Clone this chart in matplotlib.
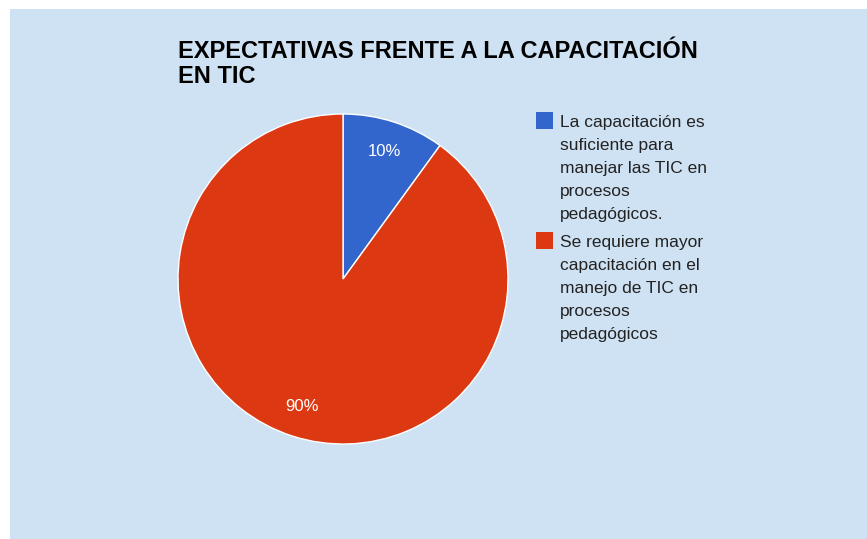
import matplotlib.pyplot as plt
from matplotlib.patches import Rectangle

# chart data
title_lines = ['EXPECTATIVAS FRENTE A LA CAPACITACIÓN', 'EN TIC']
labels = ['La capacitación es\nsuficiente para\nmanejar las TIC en\nprocesos\npedagógicos.',
          'Se requiere mayor\ncapacitación en el\nmanejo de TIC en\nprocesos\npedagógicos']
values = [10, 90]
colors = ['#3366cc', '#dc3912']

W, H = 867, 539
bg = '#cfe2f3'
plt.rcParams['font.family'] = ['Liberation Sans', 'DejaVu Sans']

fig = plt.figure(figsize=(W / 100, H / 100), dpi=100, facecolor='white')

# light blue panel (white strip on top and left like the screenshot)
fig.patches.append(Rectangle((10 / W, 0), (W - 10) / W, (H - 9) / H,
                             transform=fig.transFigure, facecolor=bg,
                             edgecolor='none', zorder=-5))

# pie: center (343, 279) px, radius 165 px
cx, cy, r = 343, 279, 165
ax = fig.add_axes([(cx - r) / W, (H - cy - r) / H, 2 * r / W, 2 * r / H])
ax.set_zorder(2)
ax.set_axis_off()
wedges, texts, autotexts = ax.pie(values, colors=colors, startangle=90, counterclock=False,
                                  autopct='%d%%', pctdistance=0.81, radius=1,
                                  wedgeprops=dict(edgecolor='white', linewidth=1))
for t in autotexts:
    t.set_color('white')
    t.set_fontsize(12)
ax.set_xlim(-1, 1)
ax.set_ylim(-1, 1)

def px(x, y):
    return x / W, 1 - y / H

# title
for i, line in enumerate(title_lines):
    fig.text(*px(178, 58 + i * 25), line, fontsize=17, fontweight='bold',
             color='black', va='baseline', ha='left')

# legend
first_baseline = [127, 247]
for lab, col, yb in zip(labels, colors, first_baseline):
    fig.patches.append(Rectangle(px(536, yb + 2), 17 / W, 17 / H, transform=fig.transFigure,
                                 facecolor=col, edgecolor='none', zorder=2))
    for j, line in enumerate(lab.split('\n')):
        fig.text(*px(560, yb + j * 23), line, fontsize=12.5, color='#222222',
                 va='baseline', ha='left')

fig.savefig('out.png', dpi=100, facecolor='white')
